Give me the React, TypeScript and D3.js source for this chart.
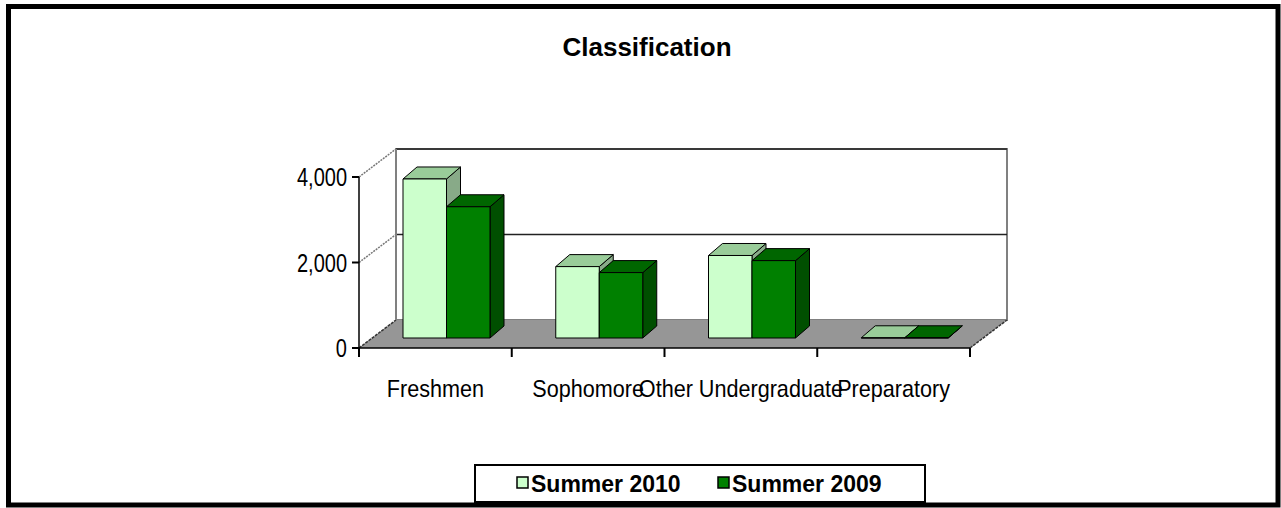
import React from "react";
import * as d3 from "d3";

const categories = ["Freshmen", "Sophomore", "Other Undergraduate", "Preparatory"];
const seriesNames = ["Summer 2010", "Summer 2009"];
const summer2010 = [3720, 1670, 1930, 5];
const summer2009 = [3070, 1530, 1810, 5];
const yTicks = [0, 2000, 4000];

const W = 1281;
const H = 508;
const frontColors = ["#CCFFCC", "#008000"];
const topColors = ["#99CC99", "#006600"];
const sideColors = ["#88AA88", "#004F00"];

export default function App() {
  const x = d3.scaleBand<string>().domain(categories).range([359, 970]).paddingInner(0).paddingOuter(0);
  const y = d3.scaleLinear().domain([0, 4000]).range([348, 177]);
  const DX = 37, DY = -28; // full depth
  const barOffX = 44, barW = 43.5, barFrontDY = -10, bdx = 14, bdy = -12;
  const fmt = d3.format(",");
  const series = [summer2010, summer2009];
  const x0 = 359, x1 = 970;
  const narrow = "scale(0.9,1)";

  const bars: JSX.Element[] = [];
  categories.forEach((c, ci) => {
    series.forEach((vals, si) => {
      const left = (x(c) as number) + barOffX + si * barW;
      const right = left + barW;
      const bottom = y(0) + barFrontDY;
      const top = y(vals[ci]) + barFrontDY;
      const front = `M${left},${top}L${right},${top}L${right},${bottom}L${left},${bottom}Z`;
      const topF = `M${left},${top}L${left + bdx},${top + bdy}L${right + bdx},${top + bdy}L${right},${top}Z`;
      const side = `M${right},${top}L${right + bdx},${top + bdy}L${right + bdx},${bottom + bdy}L${right},${bottom}Z`;
      bars.push(
        <g key={c + si} stroke="#000" strokeWidth={1} strokeLinejoin="round">
          <path d={side} fill={sideColors[si]} />
          <path d={topF} fill={topColors[si]} />
          <path d={front} fill={frontColors[si]} />
        </g>
      );
    });
  });

  return (
    <div style={{ position: "absolute", left: 0, top: 0 }}>
      <svg width={W} height={H} style={{ display: "block" }} fontFamily="'Liberation Sans', Arial, sans-serif">
        <rect x={0} y={0} width={W} height={H} fill="#fff" />
        <rect x={8.5} y={6.5} width={1269.5} height={498.5} fill="#fff" stroke="#000" strokeWidth={5} />
        <text x={647} y={56} textAnchor="middle" fontWeight="bold" fontSize={26}>Classification</text>

        {/* back wall */}
        <rect x={x0 + DX} y={y(4000) + DY} width={x1 - x0} height={y(0) - y(4000)} fill="#fff" stroke="#808080" strokeWidth={2} />
        {/* floor */}
        <path d={`M${x0},${y(0)}L${x1},${y(0)}L${x1 + DX},${y(0) + DY}L${x0 + DX},${y(0) + DY}Z`} fill="#969696" />
        <path d={`M${x1},${y(0)}L${x1 + DX},${y(0) + DY}`} stroke="#333" strokeWidth={1.5} strokeDasharray="3,1" />
        <path d={`M${x0},${y(0)}L${x0 + DX},${y(0) + DY}`} stroke="#333" strokeWidth={1.5} strokeDasharray="3,1" />
        {/* gridlines on back wall and left wall */}
        {yTicks.filter(t => t > 0).map(t => (
          <g key={t}>
            <line x1={x0 + DX} x2={x1 + DX} y1={y(t) + DY} y2={y(t) + DY} stroke="#222" strokeWidth={1.5} />
            <line x1={x0} x2={x0 + DX} y1={y(t)} y2={y(t) + DY} stroke="#777" strokeWidth={1.5} strokeDasharray="2,1" />
          </g>
        ))}
        <line x1={x0 + DX} x2={x0 + DX} y1={y(4000) + DY} y2={y(0) + DY} stroke="#808080" strokeWidth={2} />

        {bars}

        {/* value axis */}
        <line x1={x0} x2={x0} y1={y(4000)} y2={y(0)} stroke="#000" strokeWidth={1.5} />
        {yTicks.map(t => (
          <g key={t}>
            <line x1={x0 - 7} x2={x0} y1={y(t)} y2={y(t)} stroke="#000" strokeWidth={2} />
            <text transform={`translate(347,${y(t) + 9}) scale(0.8,1)`} textAnchor="end" fontSize={25}>{fmt(t)}</text>
          </g>
        ))}
        {/* category axis */}
        <line x1={x0} x2={x1} y1={y(0)} y2={y(0)} stroke="#000" strokeWidth={1.5} />
        {[...categories.map(c => x(c) as number), x1].map((tx, i) => (
          <line key={i} x1={tx} x2={tx} y1={y(0)} y2={y(0) + 9} stroke="#000" strokeWidth={2} />
        ))}
        {categories.map(c => (
          <text key={c} transform={`translate(${(x(c) as number) + x.bandwidth() / 2},${397}) ${narrow}`} textAnchor="middle" fontSize={24}>{c}</text>
        ))}

        {/* legend */}
        <rect x={475} y={465} width={450} height={37} fill="#fff" stroke="#000" strokeWidth={2} />
        {seriesNames.map((n, i) => {
          const lx = [517, 718][i];
          return (
            <g key={n}>
              <rect x={lx} y={477} width={11} height={11} fill={frontColors[i]} stroke="#000" strokeWidth={1.5} />
              <text x={lx + 14} y={492} fontWeight="bold" fontSize={23}>{n}</text>
            </g>
          );
        })}
      </svg>
    </div>
  );
}
